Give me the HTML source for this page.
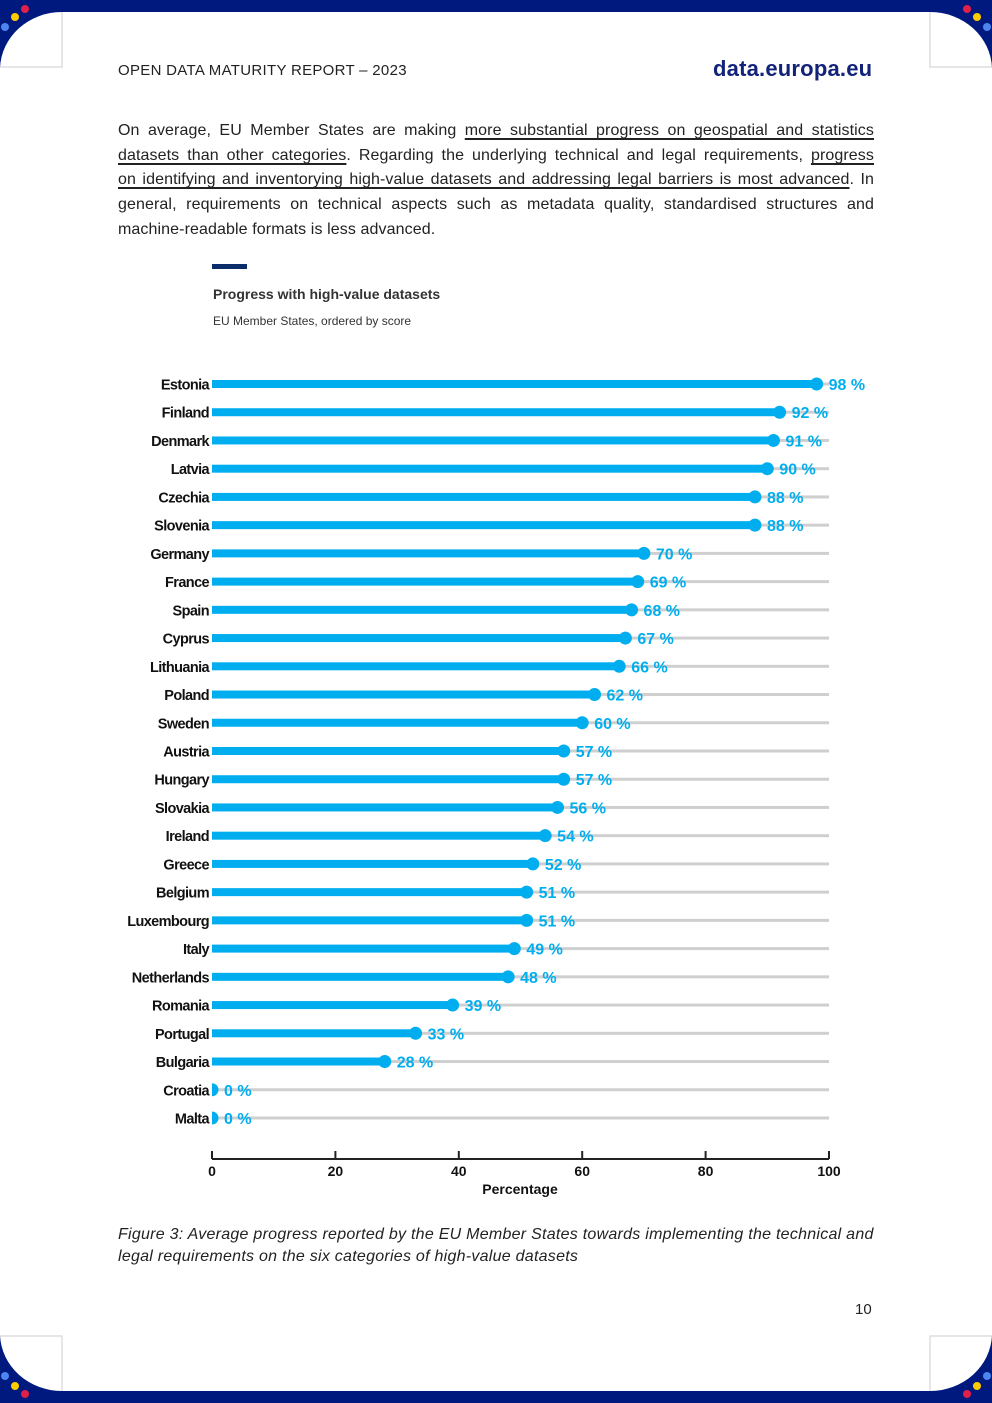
<!DOCTYPE html>
<html><head><meta charset="utf-8">
<style>
body{margin:0;background:#fff;}
#page{position:relative;width:992px;height:1403px;overflow:hidden;background:#fff;font-family:"Liberation Sans",sans-serif;}
.band{position:absolute;left:0;width:992px;height:12px;background:#00197f;}
.line{position:absolute;left:118px;width:756px;font-size:16px;color:#222;text-align:justify;text-align-last:justify;white-space:nowrap;letter-spacing:0.1px;}
.line.last{text-align-last:left;}
u{text-decoration-thickness:1.5px;text-underline-offset:3px;}
</style></head>
<body>
<div id="page">
<div class="band" style="top:0"></div>
<div class="band" style="top:1391px"></div>
<svg width="992" height="1403" style="position:absolute;left:0;top:0">
 <g>
  <path d="M0,0 H62 V12 A62,58 0 0 0 0,68 Z" fill="#00197f"/>
  <path d="M62,12 V67 H0" fill="none" stroke="#ccc" stroke-width="1"/>
  <circle cx="25" cy="9" r="4" fill="#e0204a"/><circle cx="15" cy="17" r="4" fill="#ffcc00"/><circle cx="5" cy="27" r="4" fill="#4d85f0"/>
 </g>
 <g transform="translate(992,0) scale(-1,1)">
  <path d="M0,0 H62 V12 A62,58 0 0 0 0,68 Z" fill="#00197f"/>
  <path d="M62,12 V67 H0" fill="none" stroke="#ccc" stroke-width="1"/>
  <circle cx="25" cy="9" r="4" fill="#e0204a"/><circle cx="15" cy="17" r="4" fill="#ffcc00"/><circle cx="5" cy="27" r="4" fill="#4d85f0"/>
 </g>
 <g transform="translate(0,1403) scale(1,-1)">
  <path d="M0,0 H62 V12 A62,58 0 0 0 0,68 Z" fill="#00197f"/>
  <path d="M62,12 V67 H0" fill="none" stroke="#ccc" stroke-width="1"/>
  <circle cx="25" cy="9" r="4" fill="#e0204a"/><circle cx="15" cy="17" r="4" fill="#ffcc00"/><circle cx="5" cy="27" r="4" fill="#4d85f0"/>
 </g>
 <g transform="translate(992,1403) scale(-1,-1)">
  <path d="M0,0 H62 V12 A62,58 0 0 0 0,68 Z" fill="#00197f"/>
  <path d="M62,12 V67 H0" fill="none" stroke="#ccc" stroke-width="1"/>
  <circle cx="25" cy="9" r="4" fill="#e0204a"/><circle cx="15" cy="17" r="4" fill="#ffcc00"/><circle cx="5" cy="27" r="4" fill="#4d85f0"/>
 </g>
</svg>
<div style="position:absolute;left:118px;top:62px;font-size:15px;color:#222;letter-spacing:0.3px;">OPEN DATA MATURITY REPORT – 2023</div>
<div style="position:absolute;left:713px;top:56px;font-size:22px;font-weight:bold;color:#14237a;letter-spacing:0.2px;">data.europa.eu</div>

<div class="line" style="top:122px">On average, EU Member States are making <u>more substantial progress on geospatial and statistics</u></div>
<div class="line" style="top:147px"><u>datasets than other categories</u>. Regarding the underlying technical and legal requirements, <u>progress</u></div>
<div class="line" style="top:171px"><u>on identifying and inventorying high-value datasets and addressing legal barriers is most advanced</u>. In</div>
<div class="line" style="top:196px">general, requirements on technical aspects such as metadata quality, standardised structures and</div>
<div class="line last" style="top:221px">machine-readable formats is less advanced.</div>

<div style="position:absolute;left:212px;top:264px;width:35px;height:5px;background:#0b2d6b"></div>
<div style="position:absolute;left:213px;top:286px;font-size:14px;font-weight:bold;color:#333">Progress with high-value datasets</div>
<div style="position:absolute;left:213px;top:314px;font-size:12px;color:#333">EU Member States, ordered by score</div>

<svg id="chart" width="992" height="1403" style="position:absolute;left:0;top:0"></svg>

<div style="position:absolute;left:118px;top:1224px;font-size:16px;font-style:italic;color:#222;line-height:22px;width:760px;letter-spacing:0.26px">Figure 3: Average progress reported by the EU Member States towards implementing the technical and legal requirements on the six categories of high-value datasets</div>
<div style="position:absolute;left:855px;top:1301px;font-size:15px;color:#222">10</div>
</div>
<script>
const countries=["Estonia","Finland","Denmark","Latvia","Czechia","Slovenia","Germany","France","Spain","Cyprus","Lithuania","Poland","Sweden","Austria","Hungary","Slovakia","Ireland","Greece","Belgium","Luxembourg","Italy","Netherlands","Romania","Portugal","Bulgaria","Croatia","Malta"];
const values=[98,92,91,90,88,88,70,69,68,67,66,62,60,57,57,56,54,52,51,51,49,48,39,33,28,0,0];
const valueLabels=["98 %","92 %","91 %","90 %","88 %","88 %","70 %","69 %","68 %","67 %","66 %","62 %","60 %","57 %","57 %","56 %","54 %","52 %","51 %","51 %","49 %","48 %","39 %","33 %","28 %","0 %","0 %"];
const ticks=[0,20,40,60,80,100];

const NS="http://www.w3.org/2000/svg";
const svg=document.getElementById('chart');
const X0=212,X1=829,Y0=384,STEP=28.23;
const x=v=>X0+(X1-X0)*v/100;
const y=i=>Y0+i*STEP;
function mk(tag,attrs){const e=document.createElementNS(NS,tag);for(const k in attrs)e.setAttribute(k,attrs[k]);svg.appendChild(e);return e;}
const clip=mk('clipPath',{id:'plotclip'});
const cr=document.createElementNS(NS,'rect');cr.setAttribute('x',X0);cr.setAttribute('y',0);cr.setAttribute('width',700);cr.setAttribute('height',1403);clip.appendChild(cr);

countries.forEach((c,i)=>{
  const cy=y(i);
  const track=mk('rect',{x:X0,y:cy-1.5,width:X1-X0,height:3,fill:'#cfcfcf'});
  
  
  const bar=mk('rect',{x:X0,y:cy-4,width:x(values[i])-X0,height:8,fill:'#00aeef'});
  
  
  const dot=mk('circle',{cx:x(values[i]),cy:cy,r:6.5,fill:'#00aeef','clip-path':'url(#plotclip)'});
  
  
  const lab=mk('text',{x:X0-3,y:cy+5.5,'text-anchor':'end','font-size':'14.5','font-weight':'bold',fill:'#111','font-family':'Liberation Sans, sans-serif','letter-spacing':'-0.6'});
  lab.textContent=c;
  
  
  const vl=mk('text',{x:x(values[i])+12,y:cy+6,'font-size':'16','font-weight':'bold',fill:'#00aeef','font-family':'Liberation Sans, sans-serif'});
  vl.textContent=valueLabels[i];
  
  
});
const axis=mk('line',{x1:X0,x2:X1,y1:1159,y2:1159,stroke:'#222','stroke-width':2});


ticks.forEach(t=>{
  const tk=mk('line',{x1:x(t),x2:x(t),y1:1151,y2:1159,stroke:'#222','stroke-width':2});
  
  
  const tl=mk('text',{x:x(t),y:1176,'text-anchor':'middle','font-size':'14','font-weight':'bold',fill:'#111','font-family':'Liberation Sans, sans-serif'});
  tl.textContent=t;
  
  
});
const at=mk('text',{x:520,y:1194,'text-anchor':'middle','font-size':'14','font-weight':'bold',fill:'#111','font-family':'Liberation Sans, sans-serif'});
at.textContent='Percentage';


</script>
</body></html>
